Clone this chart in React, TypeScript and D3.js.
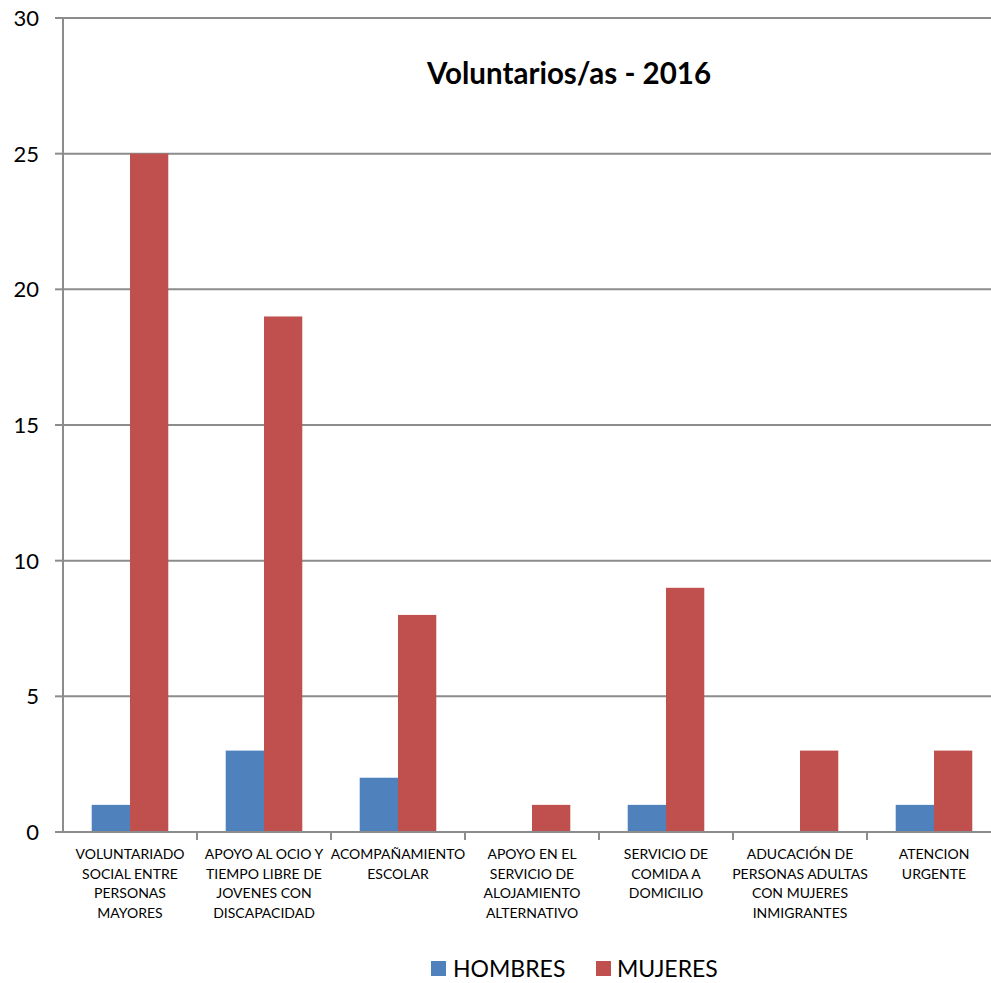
import React from "react";
import * as d3 from "d3";

const categories: string[][] = [
  ["VOLUNTARIADO", "SOCIAL ENTRE", "PERSONAS", "MAYORES"],
  ["APOYO AL OCIO Y", "TIEMPO LIBRE DE", "JOVENES CON", "DISCAPACIDAD"],
  ["ACOMPAÑAMIENTO", "ESCOLAR"],
  ["APOYO EN EL", "SERVICIO DE", "ALOJAMIENTO", "ALTERNATIVO"],
  ["SERVICIO DE", "COMIDA A", "DOMICILIO"],
  ["ADUCACIÓN DE", "PERSONAS ADULTAS", "CON MUJERES", "INMIGRANTES"],
  ["ATENCION", "URGENTE"],
];
const hombres = [1, 3, 2, 0, 1, 0, 1];
const mujeres = [25, 19, 8, 1, 9, 3, 3];
const seriesNames = ["HOMBRES", "MUJERES"];
const colors = ["#4F81BD", "#C0504D"];
const yTicks = [0, 5, 10, 15, 20, 25, 30];
const title = "Voluntarios/as - 2016";

export default function App() {
  const W = 991, H = 983;
  const left = 63, right = 1001, top = 18, bottom = 832;
  const font = "Lato, 'Open Sans', sans-serif";
  const idx = categories.map((_, i) => i);
  const x = d3.scaleBand<number>().domain(idx).range([left, right]).paddingInner(0).paddingOuter(0);
  const y = d3.scaleLinear().domain([0, 30]).range([bottom, top]);
  const bw = x.bandwidth() / 3.5;
  const series = [hombres, mujeres];
  const grid = "#8C8C8C";
  return (
    <svg width={W} height={H} style={{ position: "absolute", left: 0, top: 0, background: "#fff" }} fontFamily={font}>
      {yTicks.map((t) => (
        <g key={t}>
          {t > 0 && <line x1={left} x2={right} y1={y(t)} y2={y(t)} stroke={grid} strokeWidth={2} />}
          <line x1={55} x2={left} y1={y(t)} y2={y(t)} stroke={grid} strokeWidth={2} />
          <text x={39} y={y(t)} dy="0.36em" textAnchor="end" fontSize={22} fill="#000">{t}</text>
        </g>
      ))}
      {series.map((vals, s) =>
        vals.map((v, i) => (
          <rect key={`${s}-${i}`} x={(x(i) as number) + bw * 0.75 + s * bw} y={y(v)} width={bw} height={y(0) - y(v)} fill={colors[s]} />
        ))
      )}
      <line x1={left} x2={left} y1={top} y2={bottom} stroke={grid} strokeWidth={2} />
      <line x1={left} x2={right} y1={bottom} y2={bottom} stroke={grid} strokeWidth={2} />
      {idx.map((i) => (
        <line key={i} x1={(x(i) as number) + x.bandwidth()} x2={(x(i) as number) + x.bandwidth()} y1={bottom} y2={bottom + 8} stroke={grid} strokeWidth={2} />
      ))}
      {categories.map((lines, i) => (
        <text key={i} x={(x(i) as number) + x.bandwidth() / 2} y={859} textAnchor="middle" fontSize={14} fill="#000">
          {lines.map((l, k) => (
            <tspan key={k} x={(x(i) as number) + x.bandwidth() / 2} dy={k === 0 ? 0 : 19.6}>{l}</tspan>
          ))}
        </text>
      ))}
      <text x={569} y={84} textAnchor="middle" fontSize={29.5} fontWeight="bold" fill="#000">{title}</text>
      {seriesNames.map((n, s) => (
        <g key={n}>
          <rect x={[431, 596][s]} y={961} width={15} height={15} fill={colors[s]} />
          <text x={[453, 617][s]} y={977} fontSize={23} fill="#000">{n}</text>
        </g>
      ))}
    </svg>
  );
}
